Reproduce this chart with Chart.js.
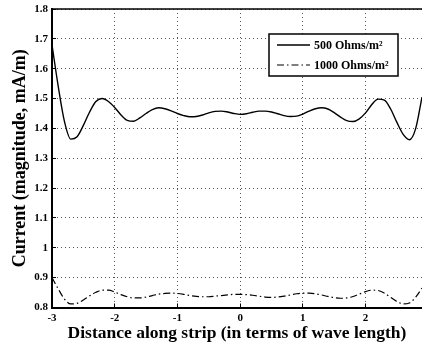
<!DOCTYPE html>
<html>
<head>
<meta charset="utf-8">
<script src="https://cdn.jsdelivr.net/npm/chart.js@4"></script>
<style>
  html, body { margin: 0; padding: 0; background: #fff; }
  #wrap { width: 422px; height: 348px; }
</style>
</head>
<body>
<div id="wrap"><canvas id="chart"></canvas></div>
<script>
// distance along strip (wave lengths)
const distance = [
  -3.0, -2.9, -2.8, -2.7, -2.6, -2.5, -2.4, -2.3, -2.2, -2.1,
  -2.0, -1.9, -1.8, -1.7, -1.6, -1.5, -1.4, -1.3, -1.2, -1.1,
  -1.0, -0.9, -0.8, -0.7, -0.6, -0.5, -0.4, -0.3, -0.2, -0.1,
   0.0,  0.1,  0.2,  0.3,  0.4,  0.5,  0.6,  0.7,  0.8,  0.9,
   1.0,  1.1,  1.2,  1.3,  1.4,  1.5,  1.6,  1.7,  1.8,  1.9,
   2.0,  2.1,  2.2,  2.3,  2.4,  2.5,  2.6,  2.7,  2.8,  2.9
];
const current500 = [
  1.680, 1.540, 1.422, 1.364, 1.372, 1.410, 1.455, 1.490, 1.500, 1.490,
  1.470, 1.445, 1.427, 1.424, 1.435, 1.450, 1.463, 1.469, 1.466, 1.459,
  1.450, 1.443, 1.439, 1.440, 1.445, 1.452, 1.457, 1.458, 1.455, 1.450,
  1.447, 1.449, 1.454, 1.458, 1.458, 1.455, 1.449, 1.443, 1.440, 1.441,
  1.448, 1.458, 1.466, 1.469, 1.465, 1.453, 1.438, 1.426, 1.423, 1.432,
  1.452, 1.480, 1.498, 1.495, 1.465, 1.420, 1.380, 1.362, 1.400, 1.505
];
const current1000 = [
  0.900, 0.862, 0.828, 0.812, 0.814, 0.825, 0.839, 0.851, 0.858, 0.858,
  0.852, 0.843, 0.836, 0.832, 0.832, 0.835, 0.840, 0.845, 0.847, 0.848,
  0.847, 0.844, 0.840, 0.837, 0.836, 0.836, 0.838, 0.840, 0.842, 0.844,
  0.844, 0.843, 0.841, 0.838, 0.835, 0.834, 0.835, 0.838, 0.842, 0.846,
  0.848, 0.848, 0.846, 0.842, 0.837, 0.833, 0.831, 0.832, 0.837, 0.845,
  0.853, 0.858, 0.857, 0.848, 0.834, 0.820, 0.812, 0.815, 0.835, 0.865
];
const seriesLabels = ['500 Ohms/m²', '1000 Ohms/m²'];

Chart.defaults.font.family = '"Liberation Serif", "Times New Roman", serif';
Chart.defaults.font.weight = 'bold';
Chart.defaults.color = '#000';

// boxed key in the upper right + top frame line
const boxLegend = {
  id: 'boxLegend',
  afterDraw(chart) {
    const ctx = chart.ctx;
    const a = chart.chartArea;
    ctx.save();
    ctx.strokeStyle = '#000';
    ctx.lineWidth = 1.5;
    ctx.beginPath();
    ctx.moveTo(a.left, a.top);
    ctx.lineTo(a.right, a.top);
    ctx.stroke();

    const left = a.left + 217, top = a.top + 25, w = 129, h = 42;
    ctx.fillStyle = '#fff';
    ctx.fillRect(left, top, w, h);
    ctx.lineWidth = 1.5;
    ctx.strokeRect(left, top, w, h);
    chart.data.datasets.forEach((ds, i) => {
      const y = top + 11 + i * 20;
      ctx.setLineDash(ds.borderDash || []);
      ctx.lineWidth = ds.borderWidth;
      ctx.beginPath();
      ctx.moveTo(left + 8, y);
      ctx.lineTo(left + 41, y);
      ctx.stroke();
      ctx.setLineDash([]);
      ctx.fillStyle = '#000';
      ctx.textBaseline = 'middle';
      ctx.font = 'bold 12px "Liberation Serif"';
      ctx.fillText(ds.label, left + 45, y + 1);
    });
    ctx.restore();
  }
};

new Chart(document.getElementById('chart'), {
  type: 'line',
  data: {
    datasets: [
      {
        label: seriesLabels[0],
        data: distance.map((d, i) => ({ x: d, y: current500[i] })),
        borderColor: '#000',
        borderWidth: 1.4,
        pointRadius: 0,
        cubicInterpolationMode: 'monotone'
      },
      {
        label: seriesLabels[1],
        data: distance.map((d, i) => ({ x: d, y: current1000[i] })),
        borderColor: '#000',
        borderWidth: 1.2,
        borderDash: [7, 3, 1.5, 3],
        pointRadius: 0,
        cubicInterpolationMode: 'monotone'
      }
    ]
  },
  options: {
    responsive: true,
    maintainAspectRatio: false,
    animation: false,
    devicePixelRatio: 1,
    layout: { padding: { top: 9, right: 0, left: 0, bottom: 0 } },
    plugins: {
      legend: { display: false },
      tooltip: { enabled: false }
    },
    scales: {
      x: {
        type: 'linear',
        min: -3,
        max: 2.9,
        afterFit: (s) => { s.height = 40.5; s.paddingLeft = 0; s.paddingRight = 0; },
        ticks: {
          stepSize: 1,
          includeBounds: false,
          padding: 8,
          font: { size: 11, weight: 'bold' },
          callback: (v) => String(v)
        },
        grid: { color: '#555', lineWidth: 1, drawTicks: true, tickLength: -4, tickColor: '#000', tickWidth: 1 },
        border: { color: '#000', width: 2, dash: [1, 3] },
        title: {
          display: true,
          text: 'Distance along strip (in terms of wave length)',
          font: { size: 17.5, weight: 'bold' },
          padding: { top: 0, bottom: 4 }
        }
      },
      y: {
        min: 0.8,
        max: 1.8,
        afterFit: (s) => { s.width = 52; s.paddingTop = 0; s.paddingBottom = 0; },
        ticks: {
          stepSize: 0.1,
          padding: 8,
          font: { size: 11, weight: 'bold' },
          callback: (v) => String(Number(v.toFixed(1)))
        },
        grid: { color: '#555', lineWidth: 1, drawTicks: true, tickLength: -4, tickColor: '#000', tickWidth: 1 },
        border: { color: '#000', width: 2, dash: [1, 3] },
        title: {
          display: true,
          text: 'Current (magnitude, mA/m)',
          font: { size: 18, weight: 'bold' },
          padding: { top: 10, bottom: 0 }
        }
      }
    }
  },
  plugins: [boxLegend]
});
</script>
</body>
</html>
